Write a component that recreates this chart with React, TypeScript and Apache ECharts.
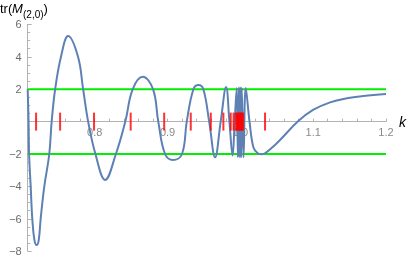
import React, { useEffect, useRef } from "react";
import * as echarts from "echarts";

// ---- data ----
const kValues = [
  0.708, 0.7092, 0.7099, 0.7121, 0.7143, 0.7172, 0.7203, 0.7232, 0.7258, 0.7308,
  0.7376, 0.7409, 0.7457, 0.7537, 0.7635, 0.7771, 0.7841, 0.791, 0.801, 0.8143,
  0.8291, 0.842, 0.8522, 0.866, 0.8801, 0.8873, 0.8966, 0.9076, 0.9199, 0.9264,
  0.9355, 0.9423, 0.9492, 0.9572, 0.9653, 0.973, 0.9804, 0.985, 0.9893, 0.9922,
  0.9951, 0.9966, 0.9979, 0.9986, 0.9993, 0.9999, 1.0005, 1.0012, 1.0019, 1.0044,
  1.0074, 1.0126, 1.018, 1.024, 1.0298, 1.037, 1.0476, 1.0545, 1.0792, 1.0998,
  1.1232, 1.1461, 1.1689, 1.2,
];
const trValues = [
  2.0, 0.0, -2.0, -4.0, -6.0, -7.3, -7.62, -7.3, -6.0, -4.0,
  -2.0, 0.0, 2.0, 4.0, 5.28, 4.0, 2.0, 0.0, -2.0, -3.6,
  -2.0, 0.0, 2.0, 2.77, 2.0, 0.0, -2.0, -2.37, -2.0, 0.0,
  2.0, 2.26, 2.0, 0.0, -2.2, 0.0, 2.13, 0.0, -2.1, 0.0,
  2.07, -2.2, 2.1, -2.2, 2.1, -2.2, 2.1, -2.2, 2.1, -2.2,
  2.07, 0.0, -1.6, -1.95, -2.02, -1.85, -1.44, -1.14, 0.02, 0.72,
  1.19, 1.44, 1.58, 1.7,
];
const redTickK = [
  0.7195, 0.7525, 0.7991, 0.8494, 0.8954, 0.9319, 0.9594, 0.9767, 0.9868, 0.9907,
  0.9941, 0.9955, 0.9969, 0.9982, 0.9996, 1.001, 1.0023, 1.0037, 1.0339,
];
const bandLevels = [2, -2];
const xMajorTicks = [0.8, 0.9, 1.0, 1.1, 1.2];
const xMinorTicks = [
  0.72, 0.74, 0.76, 0.78, 0.82, 0.84, 0.86, 0.88, 0.92, 0.94, 0.96, 0.98,
  1.02, 1.04, 1.06, 1.08, 1.12, 1.14, 1.16, 1.18,
];
const X_MIN = 0.708;
const X_MAX = 1.2;
const Y_MIN = -8;
const Y_MAX = 6;

const AXIS = "#b3b3b3";
const LABEL = "#6b6b6b";
const FONT = "Liberation Sans, Arial, sans-serif";

export default function App() {
  const ref = useRef<HTMLDivElement>(null);
  useEffect(() => {
    const chart = echarts.init(ref.current!, null, { renderer: "svg" });
    const curve = kValues.map((k, i) => [k, trValues[i]]);
    const allTicks = [...xMinorTicks, ...xMajorTicks].sort((a, b) => a - b);
    const bandSeries = bandLevels.map((lv) => ({
      type: "line",
      data: [
        [X_MIN, lv],
        [X_MAX, lv],
      ],
      symbol: "none",
      silent: true,
      z: 2,
      lineStyle: { color: "#00ee00", width: 2 },
    }));
    const option: any = {
      animation: false,
      grid: {
        left: 27.7,
        right: 26,
        top: 24.4,
        bottom: 8.8,
        containLabel: false,
        outerBoundsMode: "none",
      },
      xAxis: {
        type: "value",
        min: X_MIN,
        max: X_MAX,
        position: "bottom",
        axisLine: { show: true, onZero: true, lineStyle: { color: AXIS, width: 1 } },
        axisTick: {
          show: true,
          inside: true,
          length: 3,
          customValues: allTicks,
          lineStyle: { color: AXIS },
        },
        axisLabel: { show: false },
        splitLine: { show: false },
      },
      yAxis: {
        type: "value",
        min: Y_MIN,
        max: Y_MAX,
        interval: 2,
        axisLine: { show: true, onZero: false, lineStyle: { color: AXIS, width: 1 } },
        axisTick: { show: true, inside: true, length: 4, lineStyle: { color: AXIS } },
        minorTick: { show: true, splitNumber: 4, length: 2.5, lineStyle: { color: AXIS } },
        axisLabel: {
          formatter: (v: number) => (v === 0 ? "" : v < 0 ? "\u2212" + -v : String(v)),
          color: LABEL,
          fontSize: 11,
          fontFamily: FONT,
          margin: 6,
        },
        splitLine: { show: false },
        minorSplitLine: { show: false },
      },
      series: [
        {
          type: "scatter",
          data: xMajorTicks.map((v) => [v, 0]),
          symbolSize: 1,
          silent: true,
          z: 1,
          itemStyle: { color: "rgba(0,0,0,0)" },
          label: {
            show: true,
            position: "bottom",
            distance: 4,
            formatter: (p: any) => p.value[0].toFixed(1),
            color: LABEL,
            fontSize: 11,
            fontFamily: FONT,
          },
        },
        ...bandSeries,
        {
          type: "line",
          data: curve,
          smooth: 0.4,
          symbol: "none",
          silent: true,
          z: 3,
          lineStyle: { color: "#5e81b5", width: 2 },
        },
        {
          type: "scatter",
          data: redTickK.map((k) => [k, 0]),
          symbol: "rect",
          symbolSize: [2, 18],
          silent: true,
          z: 4,
          itemStyle: { color: "#ff0000" },
        },
      ],
      graphic: [
        {
          type: "text",
          x: 0,
          y: 8.5,
          style: { text: "tr(", fontSize: 13, fontFamily: FONT, fill: "#000", verticalAlign: "middle" },
        },
        {
          type: "text",
          x: 12,
          y: 8.5,
          style: {
            text: "M",
            fontSize: 13,
            fontStyle: "italic",
            fontFamily: FONT,
            fill: "#000",
            verticalAlign: "middle",
          },
        },
        {
          type: "text",
          x: 23,
          y: 14,
          style: { text: "(2,0)", fontSize: 10, fontFamily: FONT, fill: "#000", verticalAlign: "middle" },
        },
        {
          type: "text",
          x: 43.5,
          y: 8.5,
          style: { text: ")", fontSize: 13, fontFamily: FONT, fill: "#000", verticalAlign: "middle" },
        },
        {
          type: "text",
          x: 399,
          y: 122,
          style: {
            text: "k",
            fontSize: 14,
            fontStyle: "italic",
            fontFamily: FONT,
            fill: "#000",
            verticalAlign: "middle",
          },
        },
      ],
    };
    chart.setOption(option);
    return () => chart.dispose();
  }, []);
  return (
    <div
      ref={ref}
      style={{ position: "fixed", left: 0, top: 0, width: 412, height: 260 }}
    />
  );
}
